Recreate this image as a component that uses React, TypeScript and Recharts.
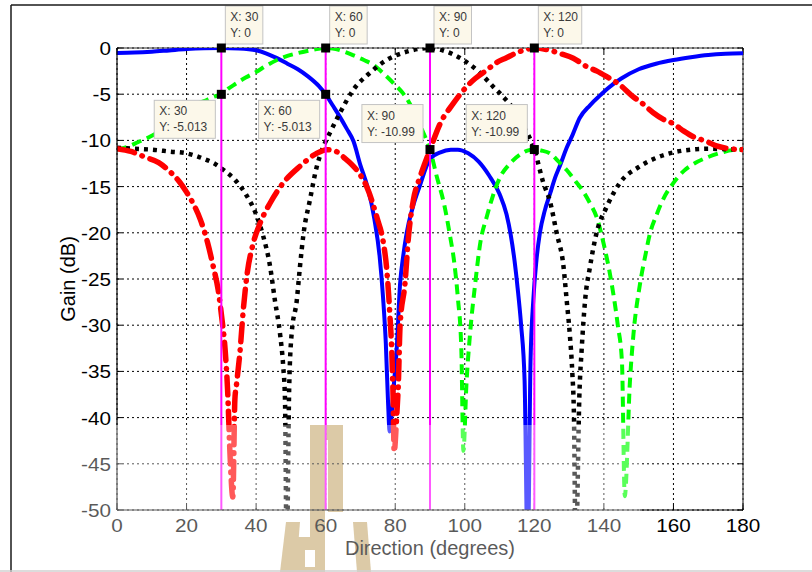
import React from "react";
import {
  CartesianGrid,
  Label,
  Line,
  LineChart,
  ReferenceDot,
  ReferenceLine,
  XAxis,
  YAxis,
} from "recharts";

// gain patterns of the four beams, [direction deg, gain dB]
type Pt = [number, number];

const beam30: Pt[] = [
  [0, -0.55], [5, -0.5], [10, -0.4], [15, -0.26], [20, -0.12], [25, -0.03], [30, 0], [35, -0.05],
  [40, -0.25], [43, -0.6], [46, -1.1], [49, -1.7], [52, -2.3], [55, -3.1], [58, -4.1], [60, -5.013],
  [62, -6.2], [64, -7.4], [66, -8.7], [68, -10.1], [70, -12.7], [72, -15], [74, -18.5], [75.5, -22.5],
  [76.5, -27], [77.3, -32], [77.9, -38], [78.4, -41.5], [79, -39.5], [79.6, -36.5], [80.4, -32.7],
  [81.4, -25.5], [82.3, -22.5], [83.3, -20], [85, -17.3], [87, -15], [90, -12], [93, -11.3],
  [96, -11.02], [98, -11], [101, -11.4], [104, -12.3], [107, -13.8], [110, -15.8], [112, -18],
  [113.2, -20.2], [114.3, -23], [115.2, -26], [116.2, -30], [117.2, -36], [118.1, -56], [118.9, -34],
  [119.7, -27.3], [120.6, -23], [121.6, -20], [123, -17.6], [124.5, -15.8], [126, -14], [127.5, -12.6],
  [129.3, -10.8], [131, -9.4], [133, -7.6], [136, -6.2], [139, -5.1], [141, -4.4], [145, -3.3],
  [150, -2.3], [155, -1.7], [160, -1.3], [165, -1], [170, -0.76], [175, -0.63], [180, -0.58],
];

const beam60: Pt[] = [
  [0, -11], [3, -10.7], [6, -10.2], [10, -9.5], [13, -8.8], [16, -7.7], [19, -6.7], [22, -6.2],
  [25, -5.75], [28, -5.25], [30, -5.013], [32, -4.4], [34, -3.9], [37, -3.2], [40, -2.6], [43, -1.9],
  [46, -1.3], [49, -0.85], [52, -0.55], [55, -0.3], [58, -0.08], [60, 0], [62, -0.05], [65, -0.35],
  [68, -0.8], [71, -1.3], [74, -1.9], [77, -2.9], [80, -4], [82, -4.8], [84, -5.9], [86, -7.4],
  [88, -9.1], [90, -10.99], [92, -14], [94, -16.8], [95.7, -20.2], [97, -23.3], [98, -27], [99, -32.5],
  [99.6, -43.6], [100.5, -36.2], [101.5, -31], [103, -25.5], [104.5, -21], [106.3, -18.3], [108, -16.1],
  [110, -14.1], [113, -12.5], [116, -11.5], [118, -11.1], [120, -10.99], [122, -11.1], [124.5, -11.4],
  [127, -12.3], [129.3, -13.2], [132, -14.5], [134, -15.5], [136, -16.8], [138, -18.4], [140, -21.3],
  [142, -25], [144, -30], [145.2, -34], [146, -48.5], [147.5, -36], [148.5, -31], [150.4, -25.5],
  [152, -22.3], [153.3, -20], [155, -18.2], [157, -16.4], [160, -14.6], [163, -13.3], [166, -12.5],
  [170, -11.8], [174, -11.3], [177, -11.05], [180, -11],
];

const beam90: Pt[] = [
  [0, -10.8], [5, -10.9], [10, -11], [15, -11.2], [20, -11.4], [25, -12], [28, -12.5], [31, -13.3],
  [34, -14.3], [37, -15.8], [40, -18], [42, -20.3], [44, -23.6], [45.4, -27.3], [46.9, -31],
  [47.8, -34.5], [48.3, -38], [48.8, -55], [49.5, -37], [50.2, -31], [51.7, -27.3], [52.6, -23.7],
  [53.6, -20.2], [55.5, -16.4], [57.4, -12.9], [58.7, -11.3], [61.2, -9.2], [64, -7.1], [68, -4.5],
  [72.7, -2.7], [77.5, -1.3], [83.3, -0.4], [90, 0], [94.8, -0.4], [99.6, -1.3], [104.4, -2.7],
  [108.2, -4.2], [111.1, -5.3], [114, -6.6], [117, -8.5], [120, -10.99], [122.6, -14.6], [124.5, -16.6],
  [126.4, -20], [128.4, -23.7], [129.3, -27.3], [130.2, -31], [130.9, -35], [131.4, -40], [131.9, -55],
  [133, -37], [133.6, -32.7], [134.6, -27.3], [136, -23.7], [137.9, -20], [140.8, -17.2], [144.6, -14.6],
  [150.4, -12.8], [155, -11.9], [160, -11.3], [165, -11], [170, -10.9], [175, -10.95], [180, -11],
];

const beam120: Pt[] = [
  [0, -10.9], [4, -11.2], [8, -11.8], [12, -12.4], [15, -13.3], [18, -14.5], [20, -15.6], [22, -16.9],
  [24, -18.6], [26, -21], [27.7, -23.7], [29.1, -26.2], [30.1, -29.1], [31.1, -32.7], [31.8, -37],
  [32.5, -44], [33.3, -48.6], [33.9, -38], [34.4, -36.3], [35.4, -32.7], [36.3, -28.4], [37.3, -24.8],
  [39.2, -21.1], [41.1, -19], [44, -16.8], [47.8, -14.6], [52.6, -12.8], [57.4, -11.4], [60.3, -11],
  [63, -11.2], [65.1, -11.8], [68.9, -13.2], [71.8, -15], [74.7, -18.3], [76.6, -21.1], [77.5, -23.7],
  [78.5, -29.1], [79, -32.7], [79.4, -38], [79.7, -43.7], [80.4, -40], [80.9, -36.3], [81.4, -30],
  [82.8, -25.5], [83.8, -20.5], [85.2, -16.5], [87.1, -14], [88.5, -12.5], [90, -10.99], [92.9, -8.2],
  [96.7, -6], [100.5, -4.2], [103, -3.3], [106.3, -2.4], [109, -1.6], [112, -1.05], [115, -0.5],
  [117.8, -0.15], [120, 0], [124, -0.2], [127.4, -0.6], [131.2, -1.1], [135, -2], [138, -2.5],
  [140.8, -3.1], [144.6, -4], [148.5, -5.3], [150.4, -5.8], [154.2, -7], [157, -7.7], [160, -8.2],
  [163, -9], [165.7, -9.6], [169.5, -10.1], [172.4, -10.6], [175.3, -10.85], [180, -11],
];

const xTicks = [0, 20, 40, 60, 80, 100, 120, 140, 160, 180];
const yTicks = [0, -5, -10, -15, -20, -25, -30, -35, -40, -45, -50];
const steerAngles = [30, 60, 90, 120];

// data cursors: where each box sits relative to its marker
const dataTips = [
  { x: 30, y: 0, side: "ne" },
  { x: 60, y: 0, side: "ne" },
  { x: 90, y: 0, side: "ne" },
  { x: 120, y: 0, side: "ne" },
  { x: 30, y: -5.013, side: "sw" },
  { x: 60, y: -5.013, side: "sw" },
  { x: 90, y: -10.99, side: "nw" },
  { x: 120, y: -10.99, side: "nw" },
];

const FONT = "'Liberation Sans', Arial, Helvetica, sans-serif";

const toPts = (pts: Pt[]) => pts.map(([x, y]) => ({ x, y }));

function XTick({ x, y, payload }: any) {
  return (
    <g transform={`translate(${x},${y + 22}) scale(1.15,1)`}>
      <text x={0} y={0} textAnchor="middle" fontFamily={FONT} fontSize={18} fill="#000">
        {payload.value}
      </text>
    </g>
  );
}

function YTick({ x, y, payload }: any) {
  return (
    <g transform={`translate(${x - 6},${y + 7}) scale(1.15,1)`}>
      <text x={0} y={0} textAnchor="end" fontFamily={FONT} fontSize={18} fill="#000">
        {payload.value}
      </text>
    </g>
  );
}

function TipShape({ cx, cy, tip }: any) {
  const l1 = `X: ${tip.x}`;
  const l2 = `Y: ${tip.y}`;
  const w = 8 + 5.9 * Math.max(l1.length, l2.length);
  const h = 38;
  let bx = cx + 4;
  let by = cy - 42;
  if (tip.side === "sw") {
    bx = cx - w - 6;
    by = cy + 6;
  } else if (tip.side === "nw") {
    bx = cx - w - 7;
    by = cy - 45;
  }
  const txt = { fontFamily: FONT, fontSize: 12, fill: "#3a3a3a" };
  return (
    <g>
      <rect x={bx} y={by} width={w} height={h} fill="#fcf8ea" stroke="#c4c4c4" strokeWidth={1} />
      <text x={bx + 5} y={by + 15} {...txt}>{l1}</text>
      <text x={bx + 5} y={by + 31} {...txt}>{l2}</text>
      <rect x={cx - 4.5} y={cy - 4.5} width={9} height={9} fill="#000" />
    </g>
  );
}

export default function App() {
  return (
    <div
      style={{
        position: "absolute",
        left: 0,
        top: 0,
        width: 812,
        height: 572,
        background: "#fff",
        overflow: "hidden",
      }}
    >
      {/* faint logo behind the axes */}
      <svg width={812} height={572} style={{ position: "absolute", left: 0, top: 0 }}>
        <g fill="#c9ae79">
          <rect x={310} y={425} width={33} height={15} />
          <rect x={310} y={425} width={15} height={147} />
          <rect x={328} y={425} width={15} height={87} />
          <polygon points="286,522 300,522 296,572 280,572" />
          <rect x={295} y={537} width={30} height={35} />
          <polygon points="353,522 367,522 371,572 357,572" />
        </g>
        <rect x={305} y={550} width={10} height={17} fill="#fff" />
      </svg>

      <div style={{ position: "absolute", left: 0, top: 0 }}>
        <LineChart width={812} height={572} margin={{ top: 48, right: 69, bottom: 22, left: 57 }}>
          <CartesianGrid stroke="#000" strokeWidth={1} strokeDasharray="2 3" />
          <XAxis
            dataKey="x"
            type="number"
            domain={[0, 180]}
            ticks={xTicks}
            interval={0}
            allowDataOverflow
            height={40}
            tickSize={0}
            tickMargin={0}
            tickLine={false}
            axisLine={{ stroke: "#000", strokeWidth: 1.2 }}
            tick={<XTick />}
          >
            <Label
              content={(props: any) => {
                const vb = props.viewBox;
                return (
                  <text
                    x={vb.x + vb.width / 2}
                    y={vb.y + 45}
                    textAnchor="middle"
                    fontFamily={FONT}
                    fontSize={20}
                    fill="#000"
                  >
                    Direction (degrees)
                  </text>
                );
              }}
            />
          </XAxis>
          <YAxis
            type="number"
            domain={[-50, 0]}
            ticks={yTicks}
            interval={0}
            allowDataOverflow
            width={60}
            tickSize={0}
            tickMargin={0}
            tickLine={false}
            axisLine={{ stroke: "#000", strokeWidth: 1.2 }}
            tick={<YTick />}
          >
            <Label
              content={(props: any) => {
                const vb = props.viewBox;
                return (
                  <text
                    transform={`translate(${vb.x + 18},${vb.y + vb.height / 2}) rotate(-90)`}
                    textAnchor="middle"
                    fontFamily={FONT}
                    fontSize={20}
                    fill="#000"
                  >
                    Gain (dB)
                  </text>
                );
              }}
            />
          </YAxis>

          {/* box edges and inward ticks */}
          <ReferenceLine y={0} stroke="#333" strokeWidth={1.2} />
          <ReferenceLine x={180} stroke="#333" strokeWidth={1.2} />
          {yTicks.map((v) => (
            <ReferenceLine key={`yl${v}`} segment={[{ x: 0, y: v }, { x: 1.5, y: v }]} stroke="#000" />
          ))}
          {yTicks.map((v) => (
            <ReferenceLine key={`yr${v}`} segment={[{ x: 178.5, y: v }, { x: 180, y: v }]} stroke="#000" />
          ))}
          {xTicks.map((v) => (
            <ReferenceLine key={`xb${v}`} segment={[{ x: v, y: -50 }, { x: v, y: -49.45 }]} stroke="#000" />
          ))}
          {xTicks.map((v) => (
            <ReferenceLine key={`xt${v}`} segment={[{ x: v, y: 0 }, { x: v, y: -0.55 }]} stroke="#000" />
          ))}

          <Line
            data={toPts(beam30)}
            dataKey="y"
            type="monotone"
            stroke="#0000ff"
            strokeWidth={4}
            dot={false}
            activeDot={false}
            isAnimationActive={false}
          />
          <Line
            data={toPts(beam60)}
            dataKey="y"
            type="monotone"
            stroke="#00ff00"
            strokeWidth={4}
            strokeDasharray="10 6"
            dot={false}
            activeDot={false}
            isAnimationActive={false}
          />
          <Line
            data={toPts(beam90)}
            dataKey="y"
            type="monotone"
            stroke="#000"
            strokeWidth={4.5}
            strokeDasharray="4 5"
            dot={false}
            activeDot={false}
            isAnimationActive={false}
          />
          {/* dash-dot with round caps: reads almost solid on the shallow parts */}
          <Line
            data={toPts(beam120)}
            dataKey="y"
            type="monotone"
            stroke="#ff0000"
            strokeWidth={5.5}
            strokeLinecap="round"
            strokeDasharray="18 8 0.5 8"
            dot={false}
            activeDot={false}
            isAnimationActive={false}
          />

          {steerAngles.map((a) => (
            <ReferenceLine key={`s${a}`} x={a} stroke="#ff00ff" strokeWidth={2} />
          ))}

          {dataTips.map((t) => (
            <ReferenceDot
              key={`tip${t.x}_${t.y}`}
              x={t.x}
              y={t.y}
              r={5}
              shape={(p: any) => <TipShape cx={p.cx} cy={p.cy} tip={t} />}
            />
          ))}
        </LineChart>
      </div>

      {/* washed-out lower strip and figure frame */}
      <svg
        width={812}
        height={572}
        style={{ position: "absolute", left: 0, top: 0, pointerEvents: "none" }}
      >
        <rect x={0} y={425} width={640} height={147} fill="#fff" opacity={0.35} />
        <line x1={11} y1={5} x2={812} y2={5} stroke="#1a1a1a" strokeWidth={1.5} />
        <line x1={11} y1={5} x2={11} y2={572} stroke="#1a1a1a" strokeWidth={1.5} />
        <line x1={0} y1={571} x2={812} y2={571} stroke="#d0d0d0" strokeWidth={1.5} />
      </svg>
    </div>
  );
}
